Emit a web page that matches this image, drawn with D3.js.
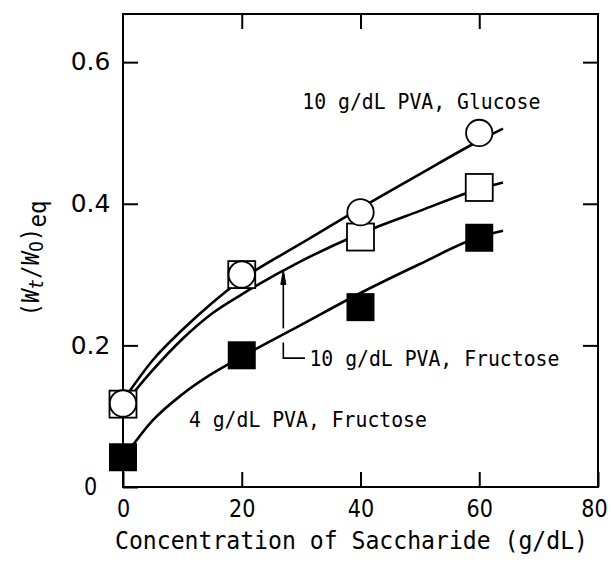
<!DOCTYPE html>
<html>
<head>
<meta charset="utf-8">
<script src="https://cdn.jsdelivr.net/npm/d3@7"></script>
<style>
  body { margin: 0; background: #fff; }
  svg { display: block; font-family: "DejaVu Sans Mono", monospace; }
</style>
</head>
<body>
<svg id="chart"></svg>
<script>
// measured points (concentration of saccharide, g/dL)
var conc = [0, 20, 40, 60];
var glucose10 = [0.118, 0.300, 0.388, 0.500];
var fructose10 = [0.117, 0.300, 0.353, 0.423];
var fructose4 = [0.042, 0.186, 0.254, 0.352];

// fitted curves
var fitX = [0, 5, 10, 15, 20, 30, 40, 50, 60, 64];
var fitGlucose10 = [0.122, 0.179, 0.222, 0.260, 0.293, 0.344, 0.394, 0.442, 0.489, 0.506];
var fitFructose10 = [0.115, 0.165, 0.209, 0.245, 0.272, 0.319, 0.358, 0.390, 0.421, 0.430];
var fitFructose4 = [0.040, 0.094, 0.131, 0.160, 0.184, 0.229, 0.274, 0.315, 0.353, 0.362];

var xTicks = [0, 20, 40, 60, 80];
var yTicks = [0, 0.2, 0.4, 0.6];
var yTickLabels = ["0", "0.2", "0.4", "0.6"];

var labels = ["10 g/dL PVA, Glucose", "10 g/dL PVA, Fructose", "4 g/dL PVA, Fructose"];
var xTitle = "Concentration of Saccharide (g/dL)";

var width = 611, height = 563;
var charW = 11.9, tickCharW = 13.2;

var x = d3.scaleLinear().domain([0, 80]).range([123, 598]);
var y = d3.scaleLinear().domain([0, 0.668]).range([487, 14]);

var svg = d3.select("#chart")
    .attr("width", width)
    .attr("height", height);

// axes, ticks pointing inward
var axBottom = svg.append("g")
    .attr("transform", "translate(0," + y(0) + ")")
    .call(d3.axisBottom(x).tickValues(xTicks).tickSize(-15).tickPadding(13).tickFormat(d3.format("d")));
var axTop = svg.append("g")
    .attr("transform", "translate(0," + y.range()[1] + ")")
    .call(d3.axisTop(x).tickValues(xTicks.slice(1, -1)).tickSize(-15).tickFormat(""));
var axLeft = svg.append("g")
    .attr("transform", "translate(" + x(0) + ",0)")
    .call(d3.axisLeft(y).tickValues(yTicks).tickSize(-15).tickFormat(function(d, i) { return yTickLabels[i]; }));
var axRight = svg.append("g")
    .attr("transform", "translate(" + x.range()[1] + ",0)")
    .call(d3.axisRight(y).tickValues(yTicks.slice(1)).tickSize(-15).tickFormat(""));

[axBottom, axTop, axLeft, axRight].forEach(function(a) {
    a.select(".domain").remove();
    a.selectAll(".tick line").attr("stroke", "#000").attr("stroke-width", 2);
    a.selectAll(".tick text")
        .attr("fill", "#000")
        .style("font-family", "DejaVu Sans, sans-serif")
        .style("font-size", "24px")
        .attr("lengthAdjust", "spacingAndGlyphs")
        .attr("textLength", function() { return this.textContent.length * tickCharW; });
});
axLeft.selectAll(".tick text").attr("text-anchor", "middle").attr("x", -32.5);
// last x label sits against the page edge, as in the original
axBottom.selectAll(".tick text").filter(function(d) { return d === 80; }).attr("x", -4);

svg.append("rect")
    .attr("x", x.range()[0])
    .attr("y", y.range()[1])
    .attr("width", x.range()[1] - x.range()[0])
    .attr("height", y.range()[0] - y.range()[1])
    .attr("fill", "none")
    .attr("stroke", "#000")
    .attr("stroke-width", 2);

// fitted curves
var line = d3.line()
    .curve(d3.curveMonotoneX)
    .x(function(d) { return x(d[0]); })
    .y(function(d) { return y(d[1]); });

[fitGlucose10, fitFructose10, fitFructose4].forEach(function(fit) {
    svg.append("path")
        .datum(fitX.map(function(v, i) { return [v, fit[i]]; }))
        .attr("d", line)
        .attr("fill", "none")
        .attr("stroke", "#000")
        .attr("stroke-width", 2.6);
});

// markers
svg.selectAll(".f4").data(conc).enter().append("rect")
    .attr("x", function(d) { return x(d) - 14; })
    .attr("y", function(d, i) { return y(fructose4[i]) - 14; })
    .attr("width", 28).attr("height", 28)
    .attr("fill", "#000");

svg.selectAll(".f10").data(conc).enter().append("rect")
    .attr("x", function(d) { return x(d) - 13.5; })
    .attr("y", function(d, i) { return y(fructose10[i]) - 13.5; })
    .attr("width", 27).attr("height", 27)
    .attr("fill", "#fff").attr("stroke", "#000").attr("stroke-width", 1.8);

svg.selectAll(".g10").data(conc).enter().append("circle")
    .attr("cx", function(d) { return x(d); })
    .attr("cy", function(d, i) { return y(glucose10[i]); })
    .attr("r", 13.2)
    .attr("fill", "#fff").attr("stroke", "#000").attr("stroke-width", 1.8);

// leader arrow for the 10 g/dL fructose curve
var arrowX = 27, arrowTip = 0.3065, arrowHead = 0.286, arrowLow = 0.224;
var elbowTop = 0.204, elbowY = 0.182, elbowEnd = 30.65;
svg.append("line")
    .attr("x1", x(arrowX)).attr("x2", x(arrowX))
    .attr("y1", y(arrowLow)).attr("y2", y(arrowHead))
    .attr("stroke", "#000").attr("stroke-width", 1.6);
svg.append("path")
    .attr("d", "M" + x(arrowX) + "," + y(arrowTip) +
        "L" + (x(arrowX) + 2.5) + "," + y(arrowHead) +
        "L" + (x(arrowX) - 2.5) + "," + y(arrowHead) + "Z")
    .attr("fill", "#000").attr("stroke", "#000").attr("stroke-width", 1);
svg.append("path")
    .attr("d", "M" + x(arrowX) + "," + y(elbowTop) +
        "V" + y(elbowY) + "H" + x(elbowEnd))
    .attr("fill", "none").attr("stroke", "#000").attr("stroke-width", 1.6);

// curve labels
var labelPos = [[30.2, 0.5334], [31.4, 0.1703], [11.1, 0.0847]];
labels.forEach(function(t, i) {
    svg.append("text")
        .attr("x", x(labelPos[i][0]))
        .attr("y", y(labelPos[i][1]))
        .attr("textLength", t.length * charW)
        .attr("lengthAdjust", "spacingAndGlyphs")
        .style("font-size", "22px")
        .text(t);
});

// axis titles
svg.append("text")
    .attr("x", 351.5)
    .attr("y", 549)
    .attr("text-anchor", "middle")
    .attr("textLength", 473)
    .attr("lengthAdjust", "spacingAndGlyphs")
    .style("font-size", "24px")
    .text(xTitle);

var yt = svg.append("text")
    .attr("transform", "translate(39,258.5) rotate(-90) scale(0.9,1)")
    .attr("text-anchor", "middle")
    .style("font-size", "25px");
yt.append("tspan").text("(");
yt.append("tspan").style("font-style", "italic").text("W");
yt.append("tspan").style("font-style", "italic").style("font-size", "19px").attr("dy", 4).text("t");
yt.append("tspan").attr("dy", -4).text("/");
yt.append("tspan").style("font-style", "italic").text("W");
yt.append("tspan").style("font-family", "DejaVu Sans, sans-serif").style("font-size", "19px").attr("dy", 4).text("0");
yt.append("tspan").attr("dy", -4).text(")");
yt.append("tspan").attr("dy", 7).text("eq");
</script>
</body>
</html>
